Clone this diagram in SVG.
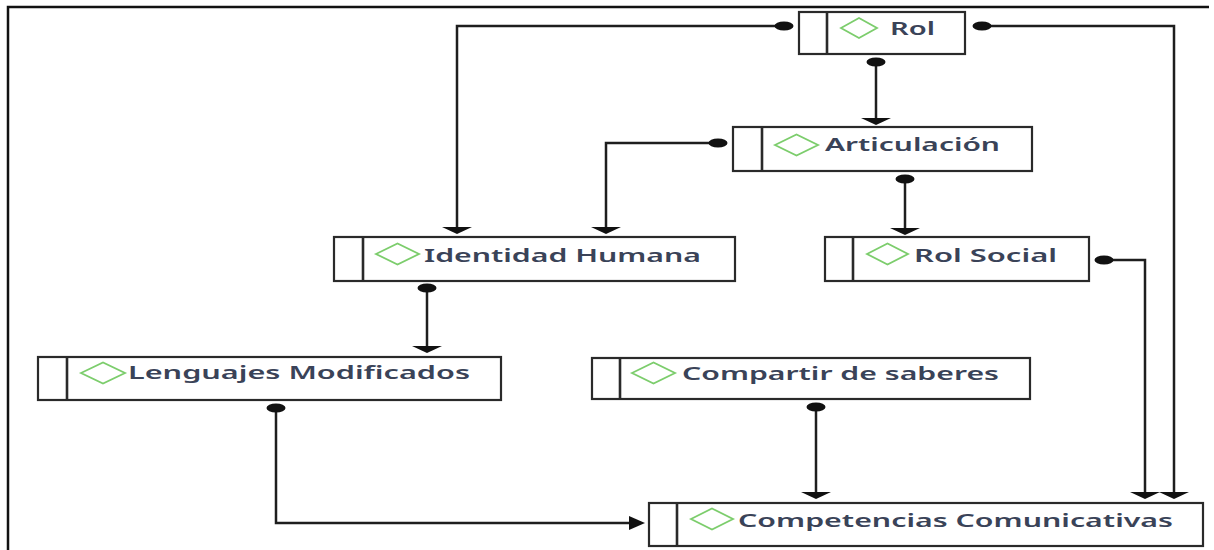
<svg xmlns="http://www.w3.org/2000/svg" xmlns:xlink="http://www.w3.org/1999/xlink" width="1214" height="550" viewBox="0 0 1214 550">
<style>
.box{fill:#ffffff;stroke:#2a2a2a;stroke-width:2.2}
.div{stroke:#2a2a2a;stroke-width:2.6}
.dia{fill:none;stroke:#7ccd6c;stroke-width:1.8}
.lbl{font-family:"Noto Sans","Open Sans",sans-serif;font-size:18.5px;font-weight:600;fill:#3a4358}
.con{fill:none;stroke:#1e1e1e;stroke-width:2.5}
.frame{fill:none;stroke:#111111;stroke-width:2.5}
</style>
<defs>
<path id="ad" d="M-15,-7 L15,-7 L0,0 Z" fill="#111111"/>
<path id="ar" d="M-16,-7 L-16,7 L0,0 Z" fill="#111111"/>
<ellipse id="dot" rx="9.5" ry="4.5" fill="#111111"/>
</defs>
<rect width="1214" height="550" fill="#ffffff"/>
<path class="frame" d="M8,550 V7 H1209"/>

<g id="connectors">
<path class="con" d="M784,26 H457 V228"/>
<use xlink:href="#dot" x="784" y="26"/>
<use xlink:href="#ad" x="457" y="234"/>

<path class="con" d="M982,26 H1174 V493"/>
<use xlink:href="#dot" x="982" y="26"/>
<use xlink:href="#ad" x="1174" y="499"/>

<path class="con" d="M876,62 V119"/>
<use xlink:href="#dot" x="876" y="62"/>
<use xlink:href="#ad" x="876" y="125"/>

<path class="con" d="M718,143 H606 V228"/>
<use xlink:href="#dot" x="718" y="143"/>
<use xlink:href="#ad" x="606" y="234"/>

<path class="con" d="M905,179 V229"/>
<use xlink:href="#dot" x="905" y="179"/>
<use xlink:href="#ad" x="905" y="235"/>

<path class="con" d="M1104,260 H1145 V493"/>
<use xlink:href="#dot" x="1104" y="260"/>
<use xlink:href="#ad" x="1145" y="499"/>

<path class="con" d="M427,288 V347"/>
<use xlink:href="#dot" x="427" y="288"/>
<use xlink:href="#ad" x="427" y="353"/>

<path class="con" d="M276,408 V523 H630"/>
<use xlink:href="#dot" x="276" y="408"/>
<use xlink:href="#ar" x="645" y="523"/>

<path class="con" d="M816,407 V493"/>
<use xlink:href="#dot" x="816" y="407"/>
<use xlink:href="#ad" x="816" y="499"/>
</g>

<g id="rol">
<rect class="box" x="799" y="12" width="166" height="42"/>
<line class="div" x1="827" y1="12" x2="827" y2="54"/>
<path class="dia" d="M841,28 L859,18 L877,28 L859,38 Z"/>
<text class="lbl" x="890" y="35" textLength="45" lengthAdjust="spacingAndGlyphs">Rol</text>
</g>

<g id="articulacion">
<rect class="box" x="733" y="127" width="299" height="44"/>
<line class="div" x1="762" y1="127" x2="762" y2="171"/>
<path class="dia" d="M775,145 L796.5,134.5 L818,145 L796.5,155.5 Z"/>
<text class="lbl" x="825" y="151" textLength="175" lengthAdjust="spacingAndGlyphs">Articulación</text>
</g>

<g id="identidad-humana">
<rect class="box" x="334" y="237" width="401" height="44"/>
<line class="div" x1="363" y1="237" x2="363" y2="281"/>
<path class="dia" d="M376,254 L397.5,243.5 L419,254 L397.5,264.5 Z"/>
<text class="lbl" x="424" y="262" textLength="277" lengthAdjust="spacingAndGlyphs">Identidad Humana</text>
</g>

<g id="rol-social">
<rect class="box" x="825" y="237" width="264" height="44"/>
<line class="div" x1="853" y1="237" x2="853" y2="281"/>
<path class="dia" d="M867,254 L887.5,243.5 L908,254 L887.5,264.5 Z"/>
<text class="lbl" x="914" y="262" textLength="143" lengthAdjust="spacingAndGlyphs">Rol Social</text>
</g>

<g id="lenguajes-modificados">
<rect class="box" x="38" y="357" width="463" height="43"/>
<line class="div" x1="67" y1="357" x2="67" y2="400"/>
<path class="dia" d="M81,373 L103,362.5 L125,373 L103,383.5 Z"/>
<text class="lbl" x="128" y="379" textLength="342" lengthAdjust="spacingAndGlyphs">Lenguajes Modificados</text>
</g>

<g id="compartir-de-saberes">
<rect class="box" x="592" y="358" width="438" height="41"/>
<line class="div" x1="620" y1="358" x2="620" y2="399"/>
<path class="dia" d="M632,373 L653.5,362.5 L675,373 L653.5,383.5 Z"/>
<text class="lbl" x="682" y="380" textLength="317" lengthAdjust="spacingAndGlyphs">Compartir de saberes</text>
</g>

<g id="competencias-comunicativas">
<rect class="box" x="649" y="503" width="554" height="43"/>
<line class="div" x1="677" y1="503" x2="677" y2="546"/>
<path class="dia" d="M691,519 L712,508.5 L733,519 L712,529.5 Z"/>
<text class="lbl" x="738" y="527" textLength="435" lengthAdjust="spacingAndGlyphs">Competencias Comunicativas</text>
</g>
</svg>
